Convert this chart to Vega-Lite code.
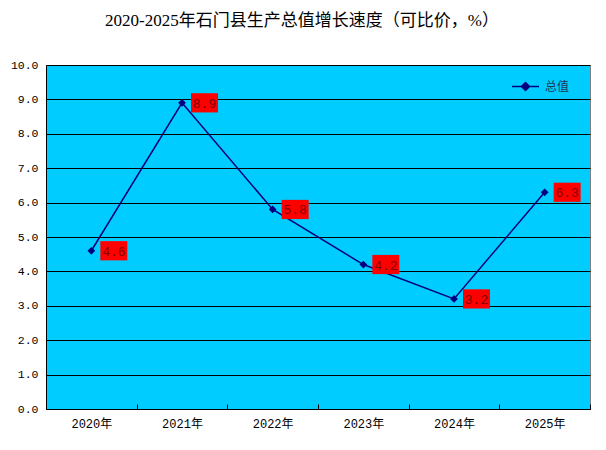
{
  "$schema": "https://vega.github.io/schema/vega-lite/v6.json",
  "description": "2020-2025 Shimen county GDP growth rate line chart",
  "autosize": "none",
  "width": 544,
  "height": 344,
  "padding": {"left": 46, "top": 65, "right": 16, "bottom": 41},
  "background": "white",
  "title": {
    "text": "2020-2025年石门县生产总值增长速度（可比价，%）",
    "font": "Liberation Serif, Noto Sans CJK SC",
    "fontSize": 17,
    "fontWeight": "normal",
    "color": "#000000",
    "anchor": "middle",
    "baseline": "middle",
    "offset": 21,
    "dx": -16
  },
  "data": {
    "values": [
      {"year": "2020年", "value": 4.6, "series": "总值"},
      {"year": "2021年", "value": 8.9, "series": "总值"},
      {"year": "2022年", "value": 5.8, "series": "总值"},
      {"year": "2023年", "value": 4.2, "series": "总值"},
      {"year": "2024年", "value": 3.2, "series": "总值"},
      {"year": "2025年", "value": 6.3, "series": "总值"}
    ]
  },
  "encoding": {
    "x": {
      "field": "year",
      "type": "ordinal",
      "sort": null,
      "scale": {"type": "band", "paddingInner": 0, "paddingOuter": 0},
      "axis": {
        "title": null,
        "labelAngle": 0,
        "labelFont": "Liberation Mono, Noto Sans CJK SC",
        "labelFontSize": 12,
        "labelColor": "#000000",
        "labelPadding": 14,
        "domainColor": "#000000",
        "domainWidth": 1,
        "tickBand": "extent",
        "tickColor": "#000000",
        "tickSize": -5,
        "grid": false
      }
    },
    "y": {
      "field": "value",
      "type": "quantitative",
      "scale": {"domain": [0, 10], "nice": false},
      "axis": {
        "title": null,
        "values": [0, 1, 2, 3, 4, 5, 6, 7, 8, 9, 10],
        "format": ".1f",
        "labelFont": "Liberation Mono",
        "labelFontSize": 11.5,
        "labelColor": "#000000",
        "labelPadding": 8,
        "ticks": false,
        "domainColor": "#000000",
        "domainWidth": 1,
        "grid": true,
        "gridColor": "#000000",
        "gridWidth": 1,
        "gridOpacity": 1
      }
    }
  },
  "layer": [
    {
      "mark": {"type": "line", "strokeWidth": 1.5},
      "encoding": {
        "color": {
          "field": "series",
          "type": "nominal",
          "scale": {"domain": ["总值"], "range": ["#000080"]},
          "legend": {
            "title": null,
            "orient": "none",
            "legendX": 465,
            "legendY": 7,
            "padding": 0,
            "symbolType": "M-1,0L1,0M0,-0.3L0.3,0L0,0.3L-0.3,0Z",
            "symbolSize": 729,
            "symbolStrokeWidth": 1.5,
            "labelFont": "Noto Sans CJK SC",
            "labelFontSize": 12,
            "labelColor": "#1a3a5a",
            "labelOffset": 5,
            "encode": {
              "symbols": {
                "update": {
                  "fill": {"value": "#000080"},
                  "stroke": {"value": "#000080"}
                }
              }
            }
          }
        }
      }
    },
    {
      "mark": {"type": "point", "shape": "diamond", "filled": true, "size": 60, "color": "#000080", "opacity": 1}
    },
    {
      "mark": {
        "type": "point",
        "shape": "M0.9,-0.96L3.6,-0.96L3.6,0.96L0.9,0.96Z",
        "size": 400,
        "filled": true,
        "color": "#ff0000",
        "opacity": 1
      }
    },
    {
      "mark": {
        "type": "text",
        "dx": 22.5,
        "dy": 1,
        "align": "center",
        "baseline": "middle",
        "font": "Liberation Mono",
        "fontSize": 13,
        "color": "#800000"
      },
      "encoding": {
        "text": {"field": "value", "type": "quantitative", "format": ".1f"}
      }
    }
  ],
  "config": {
    "view": {"fill": "#00CCFF", "stroke": "#808080", "strokeWidth": 1}
  }
}
